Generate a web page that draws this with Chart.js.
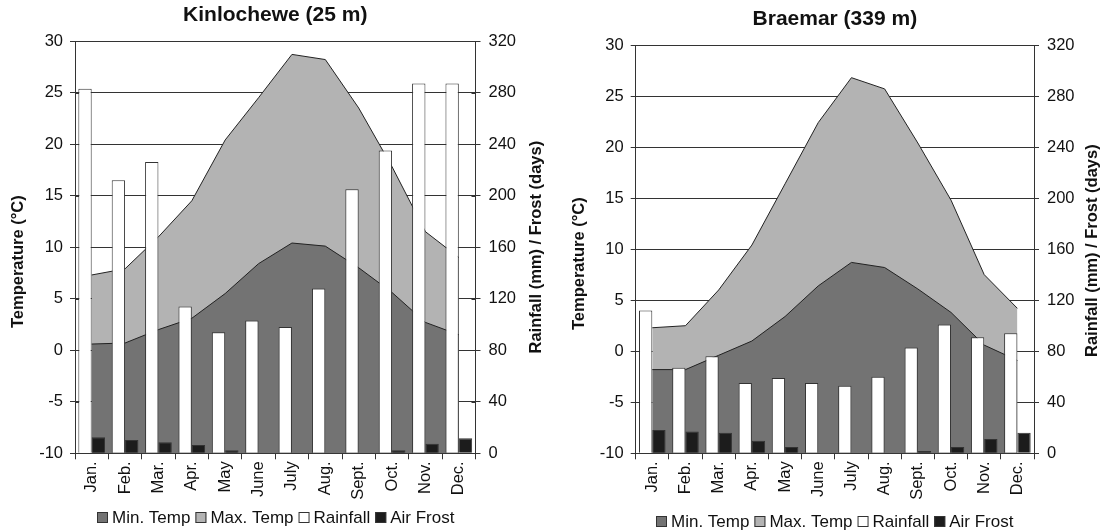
<!DOCTYPE html>
<html>
<head>
<meta charset="utf-8">
<script src="https://cdn.jsdelivr.net/npm/chart.js@4.4.1/dist/chart.umd.min.js"></script>
<style>
  html, body { margin: 0; padding: 0; background: #fff; }
  #wrap { position: relative; width: 1102px; height: 531px; overflow: hidden; }
  canvas { position: absolute; top: 0; }
</style>
</head>
<body>
<div id="wrap">
  <canvas id="kinlochewe" width="551" height="531" style="left:0"></canvas>
  <canvas id="braemar" width="551" height="531" style="left:551px"></canvas>
</div>
<script>
// Month categories and axis ticks shared by both climate charts
const months = ['Jan.', 'Feb.', 'Mar.', 'Apr.', 'May', 'June', 'July', 'Aug.', 'Sept.', 'Oct.', 'Nov.', 'Dec.'];
const tempTicks = [-10, -5, 0, 5, 10, 15, 20, 25, 30];
const rainTicks = [0, 40, 80, 120, 160, 200, 240, 280, 320];

// Kinlochewe (25 m): temperatures in °C, rainfall in mm, air frost in days
const kinMin   = [0.6, 0.7, 2.0, 3.1, 5.5, 8.4, 10.4, 10.1, 8.0, 5.6, 2.7, 1.5];
const kinMax   = [7.3, 7.9, 11.0, 14.5, 20.4, 24.5, 28.7, 28.2, 23.5, 17.8, 11.5, 9.0];
const kinRain  = [283, 212, 226, 114, 94, 103, 98, 128, 205, 235, 287, 287];
const kinFrost = [12.4, 10.3, 8.5, 6.4, 2.3, 0, 0, 0, 0, 2.3, 7.5, 11.6];

// Braemar (339 m)
const braeMin   = [-1.8, -1.8, -0.4, 1.0, 3.4, 6.4, 8.7, 8.2, 6.1, 3.8, 0.6, -0.9];
const braeMax   = [2.3, 2.5, 6.0, 10.4, 16.4, 22.4, 26.8, 25.7, 20.4, 14.8, 7.5, 4.2];
const braeRain  = [112, 67, 76, 55, 59, 55, 53, 60, 83, 101, 91, 94];
const braeFrost = [18.3, 17.0, 16.2, 9.9, 5.0, 0, 0, 0, 1.8, 5.0, 11.2, 16.2];

const FONT = '"Liberation Sans", Arial, Helvetica, sans-serif';
const INK = '#111';
const LINE = '#333';
Chart.defaults.font.family = FONT;
Chart.defaults.color = INK;

// Inner halves of the value-axis tick marks, drawn over the bars and areas
const crossTicks = {
  id: 'crossTicks',
  afterDatasetsDraw(chart) {
    const ctx = chart.ctx;
    const ca = chart.chartArea;
    ctx.save();
    ctx.strokeStyle = LINE;
    ctx.lineWidth = 1;
    ctx.beginPath();
    chart.scales.y.ticks.forEach(t => {
      const py = Math.round(chart.scales.y.getPixelForValue(t.value)) + 0.5;
      ctx.moveTo(ca.left, py); ctx.lineTo(ca.left + 4, py);
    });
    chart.scales.y1.ticks.forEach(t => {
      const py = Math.round(chart.scales.y1.getPixelForValue(t.value)) + 0.5;
      ctx.moveTo(ca.right - 4, py); ctx.lineTo(ca.right, py);
    });
    ctx.stroke();
    ctx.restore();
  }
};

// Legend row and the two rotated axis titles, drawn on top of the chart
function decorPlugin(d) {
  return {
    id: 'climateDecor',
    afterDraw(chart) {
      const ctx = chart.ctx;
      const ca = chart.chartArea;
      ctx.save();

      // axis titles (both read bottom-to-top)
      ctx.font = 'bold 16.5px ' + FONT;
      ctx.fillStyle = INK;
      ctx.textAlign = 'center';
      ctx.textBaseline = 'middle';
      const mid = (ca.top + ca.bottom) / 2;
      [[ca.left - d.leftTitleGap, mid + d.leftTitleShift, 'Temperature (°C)'],
       [ca.right + d.rightTitleGap, mid + d.rightTitleShift, 'Rainfall (mm) / Frost (days)']]
        .forEach(([x, y, txt]) => {
          ctx.save();
          ctx.translate(x, y);
          ctx.rotate(-Math.PI / 2);
          ctx.fillText(txt, 0, 0);
          ctx.restore();
        });

      // legend
      ctx.font = '17px ' + FONT;
      ctx.textAlign = 'left';
      const box = 11, gapText = 4, gapItem = 5;
      const items = chart.data.datasets.map(ds => ({
        text: ds.label, fill: ds.backgroundColor,
        w: box + gapText + ctx.measureText(ds.label).width
      }));
      const total = items.reduce((s, it) => s + it.w, 0) + gapItem * (items.length - 1);
      let x = Math.round((ca.left + ca.right) / 2 - total / 2);
      const y = d.legendY;
      items.forEach(it => {
        ctx.fillStyle = it.fill;
        ctx.fillRect(x, Math.round(y - box / 2), box, box);
        ctx.strokeStyle = LINE;
        ctx.lineWidth = 1;
        ctx.strokeRect(x + 0.5, Math.round(y - box / 2) + 0.5, box - 1, box - 1);
        ctx.fillStyle = INK;
        ctx.fillText(it.text, x + box + gapText, y + 1);
        x += it.w + gapItem;
      });
      ctx.restore();
    }
  };
}

function climateChart(id, title, minT, maxT, rain, frost, d) {
  return new Chart(document.getElementById(id), {
    type: 'bar',
    data: {
      labels: months,
      datasets: [
        { type: 'line', label: 'Min. Temp', data: minT, yAxisID: 'y', order: 2,
          fill: 'start', backgroundColor: '#737373', borderColor: '#222',
          borderWidth: 1, pointRadius: 0, tension: 0 },
        { type: 'line', label: 'Max. Temp', data: maxT, yAxisID: 'y', order: 3,
          fill: 'start', backgroundColor: '#b3b3b3', borderColor: '#222',
          borderWidth: 1, pointRadius: 0, tension: 0 },
        { label: 'Rainfall', data: rain, yAxisID: 'y1', order: 1,
          backgroundColor: '#ffffff', borderColor: LINE, borderWidth: 1,
          categoryPercentage: 0.8, barPercentage: 1.0 },
        { label: 'Air Frost', data: frost, yAxisID: 'y1', order: 1,
          backgroundColor: '#1c1c1c', borderColor: LINE, borderWidth: 1,
          categoryPercentage: 0.8, barPercentage: 1.0 }
      ]
    },
    options: {
      responsive: false,
      maintainAspectRatio: false,
      animation: false,
      devicePixelRatio: 1,
      layout: { padding: { top: 0, left: 0, right: 0, bottom: d.padBottom } },
      plugins: {
        legend: { display: false },
        tooltip: { enabled: false },
        title: {
          display: true, text: title, fullSize: false, color: INK,
          font: { size: 21, weight: 'bold', lineHeight: 1.2 },
          padding: { top: d.titleTop, bottom: d.titleBottom }
        }
      },
      scales: {
        x: {
          offset: true,
          grid: { offset: true, drawOnChartArea: false, tickLength: 6, color: LINE },
          border: { color: LINE },
          ticks: { minRotation: 90, maxRotation: 90, autoSkip: false, padding: 2,
                   font: { size: 16.5 }, color: INK },
          afterFit: s => { s.height = d.xHeight; }
        },
        y: {
          position: 'left', min: -10, max: 30,
          afterBuildTicks: s => { s.ticks = tempTicks.map(v => ({ value: v })); },
          grid: { color: LINE, tickLength: 5 },
          border: { color: LINE },
          ticks: { padding: 7, font: { size: 16.5 }, color: INK },
          afterFit: s => { s.width = d.leftWidth; }
        },
        y1: {
          position: 'right', min: 0, max: 320,
          afterBuildTicks: s => { s.ticks = rainTicks.map(v => ({ value: v })); },
          grid: { drawOnChartArea: false, color: LINE, tickLength: 5 },
          border: { color: LINE },
          ticks: { padding: 8, font: { size: 16.5 }, color: INK },
          afterFit: s => { s.width = d.rightWidth; }
        }
      }
    },
    plugins: [crossTicks, decorPlugin(d)]
  });
}

climateChart('kinlochewe', 'Kinlochewe (25 m)', kinMin, kinMax, kinRain, kinFrost, {
  titleTop: 3, titleBottom: 12.8, padBottom: 28, xHeight: 49.7,
  leftWidth: 75, rightWidth: 75.5,
  leftTitleGap: 56.5, leftTitleShift: 14.5, rightTitleGap: 60.5, rightTitleShift: 0,
  legendY: 517.5
});

climateChart('braemar', 'Braemar (339 m)', braeMin, braeMax, braeRain, braeFrost, {
  titleTop: 7, titleBottom: 12.8, padBottom: 28, xHeight: 49.7,
  leftWidth: 84.7, rightWidth: 68,
  leftTitleGap: 56.7, leftTitleShift: 14.5, rightTitleGap: 58, rightTitleShift: 1.5,
  legendY: 521.5
});
</script>
</body>
</html>
